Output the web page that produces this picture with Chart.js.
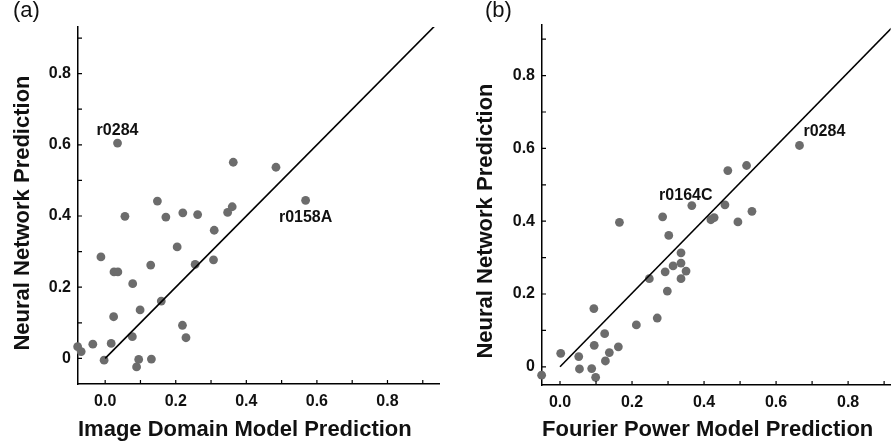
<!DOCTYPE html>
<html>
<head>
<meta charset="utf-8">
<script src="https://cdn.jsdelivr.net/npm/chart.js@4.4.0/dist/chart.umd.min.js"></script>
<style>
  body { margin: 0; background: #fff; width: 895px; height: 445px; overflow: hidden; position: relative;
         font-family: "Liberation Sans", Arial, sans-serif; }
  .panel { position: absolute; top: 0; height: 445px; }
  #pa { left: 0; width: 445px; }
  #pb { left: 445px; width: 450px; }
  .tag { position: absolute; top: -3px; font-size: 22px; color: #111; }
</style>
</head>
<body>
<div class="panel" id="pa"><canvas id="chartA"></canvas></div>
<div class="panel" id="pb"><canvas id="chartB"></canvas></div>
<div class="tag" style="left:13px">(a)</div>
<div class="tag" style="left:485px">(b)</div>
<script>
// (a) image domain model vs neural network
var imageX = [0.035, 0.363, 0.484, 0.568, 0.148, 0.056, 0.172, 0.220, 0.262, 0.347, 0.360, 0.309,
              0.204, -0.012, 0.307, 0.129, 0.255, 0.025, 0.036, 0.078, 0.159, 0.099, 0.024, 0.219,
              0.229, 0.077, 0.017, -0.035, -0.078, -0.068, -0.003, 0.095, 0.131, 0.089];
var imageNN = [0.605, 0.551, 0.537, 0.444, 0.442, 0.399, 0.397, 0.409, 0.404, 0.410, 0.426, 0.360,
               0.313, 0.285, 0.277, 0.262, 0.264, 0.243, 0.243, 0.210, 0.161, 0.136, 0.117, 0.093,
               0.058, 0.061, 0.042, 0.040, 0.033, 0.019, -0.005, -0.003, -0.002, -0.024];
// (b) fourier power model vs neural network
var fourierX = [0.665, 0.518, 0.466, 0.366, 0.458, 0.533, 0.419, 0.428, 0.494, 0.165, 0.285, 0.302,
                0.336, 0.336, 0.314, 0.350, 0.292, 0.336, 0.248, 0.298, 0.094, 0.270, 0.212, 0.124,
                0.095, 0.162, 0.137, 0.126, 0.002, 0.052, 0.054, 0.088, 0.099, -0.051];
var fourierNN = [0.608, 0.553, 0.539, 0.443, 0.445, 0.427, 0.404, 0.410, 0.398, 0.397, 0.412, 0.361,
                 0.313, 0.285, 0.277, 0.263, 0.261, 0.242, 0.242, 0.208, 0.160, 0.134, 0.115, 0.091,
                 0.059, 0.055, 0.039, 0.016, 0.037, 0.028, -0.006, -0.005, -0.029, -0.023];
// reference lines
var lineA = [[0, 0], [0.94, 0.94]];
var lineB = [[0, 0], [0.92, 0.93]];
// tagged points: index into the arrays above
var tagsA = [{ i: 0, text: 'r0284', dx: 0, dy: -8, align: 'center' },
             { i: 3, text: 'r0158A', dx: 0, dy: 22, align: 'center' }];
var tagsB = [{ i: 3, text: 'r0164C', dx: -6, dy: -6, align: 'center' },
             { i: 0, text: 'r0284', dx: 4, dy: -9, align: 'left' }];

function pts(xs, ys) {
  return xs.map(function (v, k) { return { x: v, y: ys[k] }; });
}

function tickLabel(v, zeroText) {
  var r = Math.round(v * 10);
  if (r % 2 !== 0 || r < 0) return '';
  return r === 0 ? zeroText : (r / 10).toFixed(1);
}

var FONT = '"Liberation Sans", Arial, sans-serif';

var extras = {
  id: 'extras',
  afterDraw: function (chart) {
    var ctx = chart.ctx, area = chart.chartArea, xs = chart.scales.x, ys = chart.scales.y;
    var o = chart.options.plugins.extras;
    ctx.save();
    ctx.strokeStyle = '#000';
    ctx.lineWidth = 1.2;
    ctx.beginPath();
    xs.ticks.forEach(function (t) {
      var px = xs.getPixelForValue(t.value);
      ctx.moveTo(px, area.bottom); ctx.lineTo(px, area.bottom - 4);
    });
    ys.ticks.forEach(function (t) {
      var py = ys.getPixelForValue(t.value);
      ctx.moveTo(area.left, py); ctx.lineTo(area.left + 4, py);
    });
    ctx.stroke();

    // point tags
    var meta = chart.getDatasetMeta(1);
    ctx.fillStyle = '#111';
    ctx.font = 'bold 16px ' + FONT;
    ctx.textBaseline = 'alphabetic';
    (o.tags || []).forEach(function (tg) {
      var p = meta.data[tg.i];
      ctx.textAlign = tg.align;
      ctx.fillText(tg.text, p.x + tg.dx, p.y + tg.dy);
    });

    // y axis title
    ctx.translate(o.yTitleX, o.yTitleY);
    ctx.rotate(-Math.PI / 2);
    ctx.font = 'bold 22px ' + FONT;
    ctx.textAlign = 'center';
    ctx.textBaseline = 'middle';
    ctx.fillText(o.yTitle, 0, 0);
    ctx.restore();
  }
};

function makeChart(id, xs, ys, line, tags, opt) {
  return new Chart(document.getElementById(id), {
    type: 'scatter',
    data: {
      datasets: [
        {
          data: line.map(function (p) { return { x: p[0], y: p[1] }; }),
          showLine: true,
          borderColor: '#000',
          borderWidth: 1.6,
          pointRadius: 0
        },
        {
          data: pts(xs, ys),
          backgroundColor: '#6c6c6c',
          borderWidth: 0,
          pointRadius: 4.4,
          clip: false
        }
      ]
    },
    options: {
      responsive: true,
      maintainAspectRatio: false,
      animation: false,
      layout: { padding: opt.padding },
      plugins: {
        legend: { display: false },
        tooltip: { enabled: false },
        extras: { tags: tags, yTitle: 'Neural Network Prediction', yTitleX: opt.yTitleX, yTitleY: opt.yTitleY }
      },
      scales: {
        x: {
          min: opt.xMin, max: opt.xMax,
          afterFit: function (s) { s.height = opt.xH; },
          grid: { display: false, drawTicks: false },
          border: { color: '#000', width: 1.5 },
          ticks: {
            stepSize: 0.1, includeBounds: false, autoSkip: false, maxRotation: 0,
            padding: 8, color: '#111',
            font: { family: FONT, size: 16, weight: 'bold' },
            callback: function (v) { return tickLabel(v, '0.0'); }
          },
          title: {
            display: true, text: opt.xTitle, color: '#111', align: 'start', padding: { top: 0, bottom: 2 },
            font: { family: FONT, size: 22, weight: 'bold' }
          }
        },
        y: {
          min: opt.yMin, max: opt.yMax,
          afterFit: function (s) { s.width = opt.yW; },
          grid: { display: false, drawTicks: false },
          border: { color: '#000', width: 1.5 },
          ticks: {
            stepSize: 0.1, includeBounds: false, autoSkip: false,
            padding: 7, color: '#111',
            font: { family: FONT, size: 16, weight: 'bold' },
            callback: function (v) { return tickLabel(v, '0'); }
          }
        }
      }
    },
    plugins: [extras]
  });
}

makeChart('chartA', imageX, imageNN, lineA, tagsA, {
  padding: { top: 27, right: 6, left: 0, bottom: 0 },
  xMin: -0.077, xMax: 0.946, yMin: -0.072, yMax: 0.931,
  xH: 61, yW: 78, yTitleX: 23, yTitleY: 213,
  xTitle: 'Image Domain Model Prediction'
});
makeChart('chartB', fourierX, fourierNN, lineB, tagsB, {
  padding: { top: 25, right: 0, left: 0, bottom: 0 },
  xMin: -0.05, xMax: 0.918, yMin: -0.05, yMax: 0.939,
  xH: 60, yW: 97, yTitleX: 41, yTitleY: 221,
  xTitle: 'Fourier Power Model Prediction'
});
</script>
</body>
</html>
